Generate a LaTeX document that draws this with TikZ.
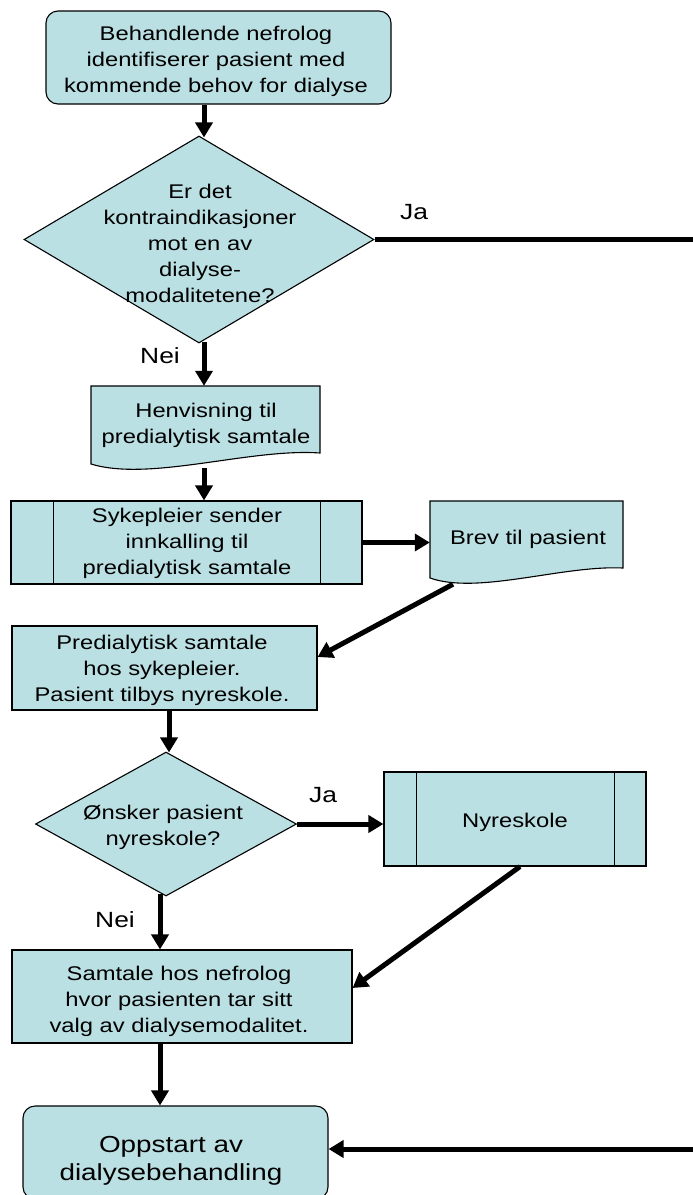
\documentclass[tikz,border=0pt]{standalone}
\usepackage{fontspec}
\setmainfont{Liberation Sans}[FakeStretch=1.2]
\usetikzlibrary{shapes.geometric,arrows.meta,calc}
\definecolor{boxfill}{RGB}{187,224,227}
\begin{document}
\begin{tikzpicture}[x=1pt,y=-1pt,
  boxline/.style={draw=black,line width=1.1pt,fill=boxfill},
  txt/.style={font=\fontsize{19.8}{26}\selectfont,align=center,inner sep=0pt},
  lbl/.style={font=\fontsize{22}{24}\selectfont,inner sep=0pt},
  bigtxt/.style={font=\fontsize{23.2}{28}\selectfont,align=center,inner sep=0pt},
  rbox/.style={boxline,rectangle,inner sep=0pt},
  roundbox/.style={rbox,rounded corners=12pt},
  decision/.style={boxline,diamond,inner sep=0pt},
  area/.style={rectangle,inner sep=0pt},
  innerline/.style={draw=black,line width=1.1pt},
  arr/.style={line width=5pt,-{Triangle[width=17pt,length=15pt]}},
  conn/.style={line width=5pt}]
\useasboundingbox (0,0) rectangle (693,1195);
\clip (0,0) rectangle (693,1195);

% columns for vertical connectors
\coordinate (cT) at (204,0);
\coordinate (cA) at (169,0);
\coordinate (cB) at (160,0);

% start box
\node[roundbox, minimum width=345pt, minimum height=93pt] (b1) at (218.5,57.5) {};
\node[txt] (t1) at (216,61.5) {Behandlende nefrolog\\identifiserer pasient med\\kommende behov for dialyse};

% decision 1
\node[decision, minimum width=350pt, minimum height=207pt] (d1) at (199,239.5) {};
\node[txt] (t2) at (200,243) {Er det\\kontraindikasjoner\\mot en av\\dialyse-\\modalitetene?};

% document: Henvisning
\path[boxline] (91,386) -- (320,386) -- (320,453) .. controls (250,448) and (150,482) .. (91,464) -- cycle;
\node[area, minimum width=229pt, minimum height=74pt] (hv) at (205.5,423) {};
\node[txt] (t3) at (206,425) {Henvisning til\\predialytisk samtale};

% predefined process: Sykepleier
\node[rbox, minimum width=351pt, minimum height=83pt] (sy) at (186.5,542.5) {};
\draw[innerline] ($(sy.north west)+(43,0)$) -- ($(sy.south west)+(43,0)$);
\draw[innerline] ($(sy.north east)+(-42,0)$) -- ($(sy.south east)+(-42,0)$);
\node[txt] (t4) at (187,543.5) {Sykepleier sender\\innkalling til\\predialytisk samtale};

% document: Brev
\path[boxline] (430,501) -- (623,501) -- (623,568) .. controls (563,565) and (478,595) .. (430,578) -- cycle;
\node[area, minimum width=193pt, minimum height=70pt] (br) at (526.5,537) {};
\node[txt] (t5) at (528,539) {Brev til pasient};

% Predialytisk
\node[rbox, minimum width=305pt, minimum height=84pt] (pr) at (164.5,668) {};
\node[txt] (t6) at (162,670.5) {Predialytisk samtale\\hos sykepleier.\\Pasient tilbys nyreskole.};

% decision 2
\node[decision, minimum width=261pt, minimum height=144pt] (d2) at (166,824) {};
\node[txt] (t7) at (163,827) {Ønsker pasient\\nyreskole?};

% predefined process: Nyreskole
\node[rbox, minimum width=262pt, minimum height=94pt] (ny) at (515,819) {};
\draw[innerline] ($(ny.north west)+(33,0)$) -- ($(ny.south west)+(33,0)$);
\draw[innerline] ($(ny.north east)+(-32,0)$) -- ($(ny.south east)+(-32,0)$);
\node[txt] (t8) at (515,822) {Nyreskole};

% Samtale
\node[rbox, minimum width=340pt, minimum height=93pt] (sa) at (182,996.5) {};
\node[txt] (t9) at (179,1001) {Samtale hos nefrolog\\hvor pasienten tar sitt\\valg av dialysemodalitet.};

% Oppstart
\node[roundbox, minimum width=305pt, minimum height=93pt] (op) at (175.5,1152.5) {};
\node[bigtxt] (t10) at (171,1160.5) {Oppstart av\\dialysebehandling};

% labels
\node[lbl] (ja1) at (414,212) {Ja};
\node[lbl] (nei1) at (160,356) {Nei};
\node[lbl] (ja2) at (323,795.5) {Ja};
\node[lbl] (nei2) at (115,920) {Nei};

% edge coordinates
\coordinate (jaR) at (697,239.5);
\coordinate (opR) at (697,1149);

% connectors
\draw[arr] (b1.south -| cT) -- ($(d1.north -| cT)+(0,2)$);
\draw[conn] (d1.east) -- (jaR);
\draw[arr] ($(d1.south -| cT)+(0,-2)$) -- (hv.north -| cT);
\draw[arr] ($(hv.south -| cT)+(0,8)$) -- (sy.north -| cT);
\draw[arr] (sy.east) -- (sy.east -| br.west);
\draw[arr] ($(br.south)+(-73.5,12)$) -- ($(pr.east)+(0,-11)$);
\draw[arr] (pr.south -| cA) -- ($(d2.north -| cA)+(0,1)$);
\draw[arr] (d2.east) -- (d2.east -| ny.west);
\draw[arr] ($(ny.south)+(5,0)$) -- ($(sa.east)+(0,-8.5)$);
\draw[arr] ($(d2.south -| cB)+(0,-3)$) -- (sa.north -| cB);
\draw[arr] (sa.south -| cB) -- (op.north -| cB);
\draw[arr] (opR) -- (opR -| op.east);
\end{tikzpicture}
\end{document}
